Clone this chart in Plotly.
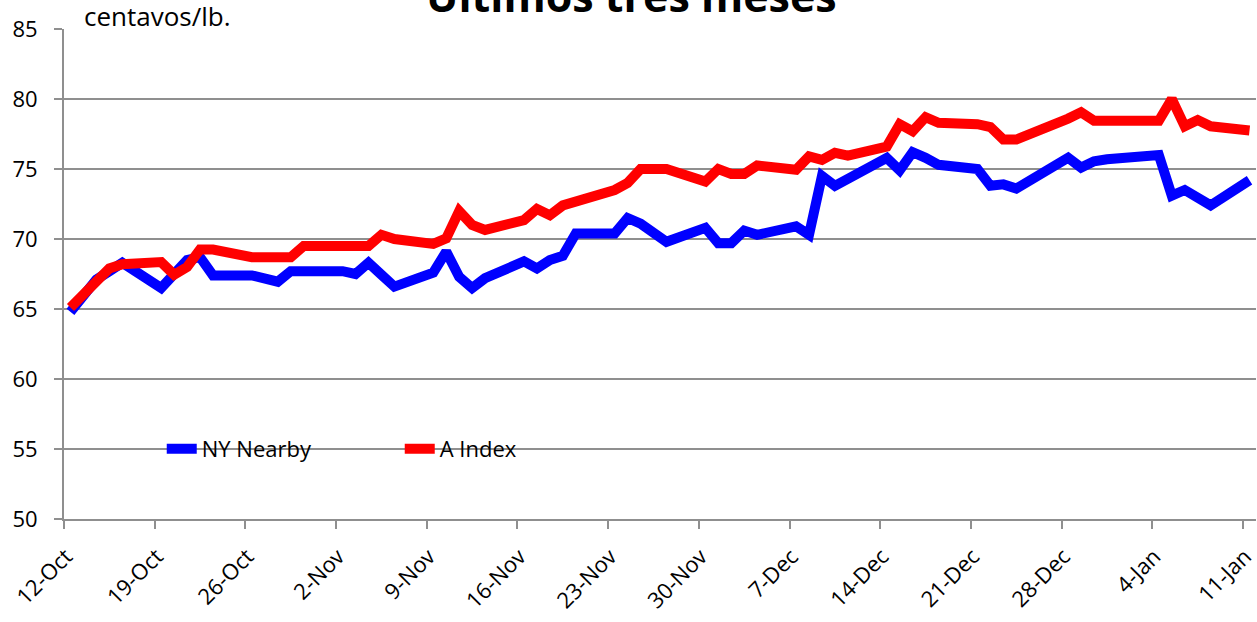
import pandas as pd
import plotly.graph_objects as go

# ---- data ----
dates = [
    "2009-10-12", "2009-10-13", "2009-10-14", "2009-10-15", "2009-10-16",
    "2009-10-19", "2009-10-20", "2009-10-21", "2009-10-22", "2009-10-23",
    "2009-10-26", "2009-10-27", "2009-10-28", "2009-10-29", "2009-10-30",
    "2009-11-02", "2009-11-03", "2009-11-04", "2009-11-05", "2009-11-06",
    "2009-11-09", "2009-11-10", "2009-11-11", "2009-11-12", "2009-11-13",
    "2009-11-16", "2009-11-17", "2009-11-18", "2009-11-19", "2009-11-20",
    "2009-11-23", "2009-11-24", "2009-11-25", "2009-11-27",
    "2009-11-30", "2009-12-01", "2009-12-02", "2009-12-03", "2009-12-04",
    "2009-12-07", "2009-12-08", "2009-12-09", "2009-12-10", "2009-12-11",
    "2009-12-14", "2009-12-15", "2009-12-16", "2009-12-17", "2009-12-18",
    "2009-12-21", "2009-12-22", "2009-12-23", "2009-12-24",
    "2009-12-28", "2009-12-29", "2009-12-30", "2009-12-31",
    "2010-01-04", "2010-01-05", "2010-01-06", "2010-01-07", "2010-01-08",
    "2010-01-11",
]

ny_nearby = [
    64.8, 66.1, 67.1, 67.7, 68.3,
    66.5, 67.4, 68.5, 68.7, 67.4,
    67.4, 67.2, 66.95, 67.7, 67.7,
    67.7, 67.5, 68.3, 67.45, 66.6,
    67.6, 69.1, 67.3, 66.5, 67.2,
    68.4, 67.9, 68.5, 68.8, 70.4,
    70.4, 71.5, 71.1, 69.8,
    70.8, 69.7, 69.7, 70.6, 70.3,
    70.9, 70.3, 74.5, 73.8, 74.3,
    75.8, 74.9, 76.2, 75.8, 75.3,
    75.0, 73.8, 73.9, 73.6,
    75.8, 75.1, 75.55, 75.7,
    76.0, 73.1, 73.5, 72.9, 72.4,
    74.2,
]

a_index = [
    65.1, 66.1, 67.1, 67.9, 68.2,
    68.35, 67.45, 68.0, 69.25, 69.25,
    68.7, 68.7, 68.7, 68.7, 69.5,
    69.5, 69.5, 69.5, 70.3, 70.0,
    69.65, 70.05, 72.0, 71.0, 70.65,
    71.35, 72.15, 71.7, 72.4, 72.65,
    73.5, 74.0, 75.0, 75.0,
    74.1, 75.0, 74.65, 74.65, 75.25,
    74.95, 75.9, 75.65, 76.15, 75.95,
    76.6, 78.2, 77.7, 78.7, 78.3,
    78.2, 78.0, 77.1, 77.1,
    78.6, 79.05, 78.45, 78.45,
    78.45, 80.0, 78.05, 78.5, 78.05,
    77.75,
]

tick_dates = ["2009-10-12", "2009-10-19", "2009-10-26", "2009-11-02", "2009-11-09",
              "2009-11-16", "2009-11-23", "2009-11-30", "2009-12-07", "2009-12-14",
              "2009-12-21", "2009-12-28", "2010-01-04", "2010-01-11"]
tick_labels = ["12-Oct", "19-Oct", "26-Oct", "2-Nov", "9-Nov", "16-Nov", "23-Nov",
               "30-Nov", "7-Dec", "14-Dec", "21-Dec", "28-Dec", "4-Jan", "11-Jan"]

title_text = "Últimos tres meses"
unit_text = "centavos/lb."

# ---- figure ----
half_day = pd.Timedelta(hours=12)
x = pd.to_datetime(dates)
tickvals = [pd.Timestamp(d) - half_day for d in tick_dates]
x_start = pd.Timestamp(tick_dates[0]) - half_day
x_end = pd.Timestamp(tick_dates[-1]) + half_day

FONT = "Open Sans"

fig = go.Figure()
fig.add_trace(go.Scatter(x=x, y=ny_nearby, mode="lines", name="NY Nearby",
                         line=dict(color="#0000ff", width=10)))
fig.add_trace(go.Scatter(x=x, y=a_index, mode="lines", name="A Index",
                         line=dict(color="#ff0000", width=10)))

grid_col = "#8f8f8f"
fig.update_layout(
    width=1257, height=622,
    margin=dict(l=64, r=1, t=29, b=103),
    paper_bgcolor="white", plot_bgcolor="white",
    font=dict(family=FONT, size=22, color="black"),
    showlegend=True,
    legend=dict(orientation="h", x=0.082, xanchor="left", y=0.143, yanchor="middle",
                bgcolor="rgba(0,0,0,0)", font=dict(family=FONT, size=22),
                entrywidth=193, itemwidth=30, tracegroupgap=0),
    xaxis=dict(
        type="date", range=[x_start, x_end], automargin=False,
        tickvals=tickvals, ticktext=tick_labels, tickangle=-45,
        showgrid=False, showline=True, linecolor=grid_col, linewidth=2,
        ticks="outside", ticklen=8, tickwidth=2, tickcolor=grid_col,
        tickfont=dict(family=FONT, size=22), zeroline=False,
        ticklabelstandoff=6, ticklabelshift=2, ticklabeloverflow="allow",
    ),
    yaxis=dict(
        range=[50, 85], dtick=5, tick0=50, automargin=False,
        showgrid=True, gridcolor=grid_col, gridwidth=2,
        showline=True, linecolor=grid_col, linewidth=2,
        ticks="outside", ticklen=8, tickwidth=2, tickcolor=grid_col,
        tickfont=dict(family=FONT, size=22), zeroline=False,
        ticklabelstandoff=12,
    ),
    annotations=[
        dict(text=title_text, xref="paper", yref="paper", x=0.476, y=1.006,
             xanchor="center", yanchor="bottom", showarrow=False, borderpad=0,
             font=dict(family=FONT, size=43, color="black", weight="bold")),
        dict(text=unit_text, xref="paper", yref="paper", x=0.016, y=0.987,
             xanchor="left", yanchor="bottom", showarrow=False, borderpad=0,
             font=dict(family=FONT, size=26, color="black")),
    ],
)

fig.write_html("out.html", config={"displayModeBar": False},
               post_script="document.body.style.margin='0';")
